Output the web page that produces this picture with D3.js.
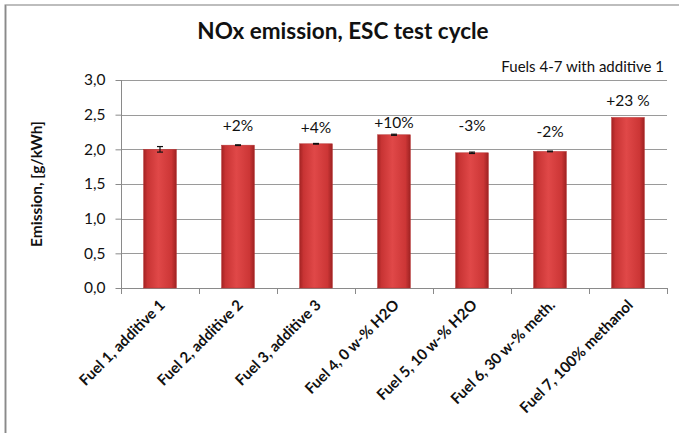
<!DOCTYPE html>
<html><head><meta charset="utf-8">
<script src="https://cdn.jsdelivr.net/npm/d3@7"></script>
<style>body{margin:0;background:#fff;}svg{display:block;font-family:Lato,"Open Sans",sans-serif;}</style>
</head><body>
<svg id="c" width="679" height="433"></svg>
<script>
const categories = ["Fuel 1, additive 1","Fuel 2, additive 2","Fuel 3, additive 3","Fuel 4, 0 w-% H2O","Fuel 5, 10 w-% H2O","Fuel 6, 30 w-% meth.","Fuel 7, 100% methanol"];
const values = [2.00, 2.06, 2.08, 2.21, 1.95, 1.97, 2.46];
const errors = [0.04, 0.005, 0.005, 0.008, 0.01, 0.005, 0];
const changeLabels = ["", "+2%", "+4%", "+10%", "-3%", "-2%", "+23 %"];
const changeLabelAt = [null, 2.26, 2.23, 2.31, 2.27, 2.18, 2.63];
const yTicks = [0, 0.5, 1.0, 1.5, 2.0, 2.5, 3.0];

const svg = d3.select("#c");
const m = {l:121, r:667, t:80, b:288};
const x = d3.scaleBand().domain(categories).range([m.l, m.r]).paddingInner(0.58).paddingOuter(0.29);
const xb = d3.scaleBand().domain(categories).range([m.l, m.r]);
const y = d3.scaleLinear().domain([0, 3]).range([m.b, m.t]);

// border
svg.append("path").attr("d","M5.5,440 V5 H690").attr("fill","none").attr("stroke","#bdbdbd").attr("stroke-width",2);
svg.append("line").attr("x1",5.5).attr("x2",5.5).attr("y1",5).attr("y2",440).attr("stroke","#8a8a8a").attr("stroke-width",1.5);

const defs = svg.append("defs");
const g = defs.append("linearGradient").attr("id","bg").attr("x1","0").attr("x2","1");
g.append("stop").attr("offset","0").attr("stop-color","#a32323");
g.append("stop").attr("offset","0.12").attr("stop-color","#c83434");
g.append("stop").attr("offset","0.45").attr("stop-color","#e04848");
g.append("stop").attr("offset","0.85").attr("stop-color","#cc3636");
g.append("stop").attr("offset","1").attr("stop-color","#9e2222");

// gridlines
svg.append("g").selectAll("line").data(yTicks.filter(d=>d>0)).join("line")
  .attr("x1", m.l).attr("x2", m.r).attr("y1", d=>Math.round(y(d))+0.5).attr("y2", d=>Math.round(y(d))+0.5)
  .attr("stroke","#9a9a9a").attr("stroke-width",1);

// y axis
const ya = svg.append("g").attr("transform",`translate(${m.l+0.5},0)`)
  .call(d3.axisLeft(y).tickValues(yTicks).tickSize(6).tickFormat(d=>d3.format(".1f")(d).replace(".",",")));
ya.selectAll("path,line").attr("stroke","#8a8a8a");
ya.select(".domain").attr("d",`M0,${m.t}V${m.b}`);
ya.selectAll("text").attr("font-size",15.5).attr("fill","#111").attr("x",-16).attr("font-family","Lato,sans-serif");

// x axis
const xa = svg.append("g").attr("transform",`translate(0,${m.b+0.5})`)
  .call(d3.axisBottom(xb).tickSize(0).tickFormat(""));
xa.select(".domain").attr("stroke","#8a8a8a").attr("d",`M${m.l},0H${m.r}`);
svg.append("g").selectAll("line").data(d3.range(categories.length+1)).join("line")
  .attr("x1", i=>Math.round(m.l + i*xb.step())+0.5).attr("x2", i=>Math.round(m.l + i*xb.step())+0.5)
  .attr("y1", m.b).attr("y2", m.b+6).attr("stroke","#8a8a8a");

// bars
svg.append("g").selectAll("rect").data(values).join("rect")
  .attr("x",(d,i)=>x(categories[i])).attr("width",x.bandwidth())
  .attr("y",d=>y(d)).attr("height",d=>y(0)-y(d))
  .attr("fill","url(#bg)").attr("stroke","#b53030").attr("stroke-width",0.5);

// error bars
const eb = svg.append("g").attr("stroke","#111").attr("stroke-width",1.2);
values.forEach((v,i)=>{
  const cx = x(categories[i]) + x.bandwidth()/2;
  const e = errors[i]; if(!e) return;
  eb.append("line").attr("x1",cx).attr("x2",cx).attr("y1",y(v+e)).attr("y2",y(v-e));
  eb.append("line").attr("x1",cx-3).attr("x2",cx+3).attr("y1",y(v+e)).attr("y2",y(v+e));
  eb.append("line").attr("x1",cx-3).attr("x2",cx+3).attr("y1",y(v-e)).attr("y2",y(v-e));
});

// change labels
svg.append("g").selectAll("text").data(changeLabels).join("text")
  .attr("x",(d,i)=>x(categories[i]) + x.bandwidth()/2)
  .attr("y",(d,i)=>changeLabelAt[i]==null?0:y(changeLabelAt[i]))
  .attr("text-anchor","middle").attr("font-size",15.5).attr("fill","#111")
  .text(d=>d);

// x labels
svg.append("g").selectAll("text").data(categories).join("text")
  .attr("transform",d=>`translate(${xb(d)+xb.bandwidth()/2+6},${m.b+18}) rotate(-45)`)
  .attr("text-anchor","end").attr("font-size",15).attr("font-weight","bold").attr("fill","#111")
  .text(d=>d);

// title
svg.append("text").attr("x",343).attr("y",39).attr("text-anchor","middle")
  .attr("font-size",22.5).attr("font-weight","bold").attr("fill","#111").text("NOx emission, ESC test cycle");
svg.append("text").attr("x",664).attr("y",72).attr("text-anchor","end")
  .attr("font-size",15).attr("fill","#111").text("Fuels 4-7 with additive 1");

// y title
svg.append("text").attr("transform",`translate(42,${(m.t+m.b)/2}) rotate(-90)`).attr("text-anchor","middle")
  .attr("font-size",15.5).attr("font-weight","bold").attr("fill","#111").text("Emission, [g/kWh]");
</script>
</body></html>
